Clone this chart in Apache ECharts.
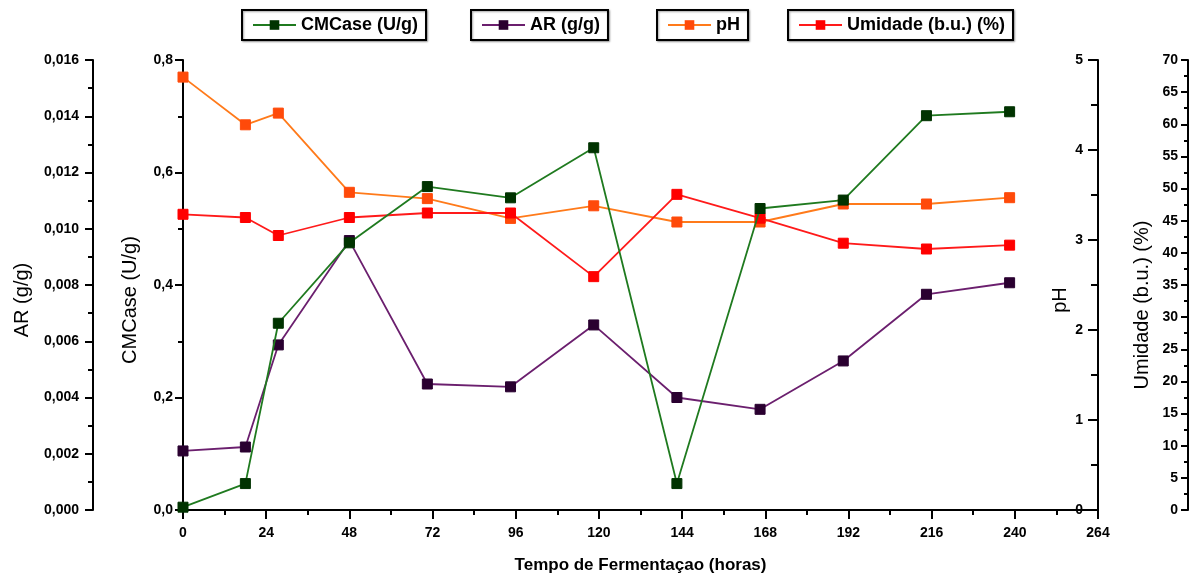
<!DOCTYPE html>
<html>
<head>
<meta charset="utf-8">
<script src="https://cdn.jsdelivr.net/npm/echarts@6/dist/echarts.min.js"></script>
<style>html,body{margin:0;padding:0;background:#fff;}#c{width:1198px;height:577px;}</style>
</head>
<body>
<div id="c"></div>
<script>
// Data
var hours = [0, 18, 27.5, 48, 70.5, 94.5, 118.5, 142.5, 166.5, 190.5, 214.5, 238.5];
var cmcase = [0.005, 0.047, 0.332, 0.475, 0.575, 0.555, 0.644, 0.047, 0.536, 0.551, 0.701, 0.708];
var ar = [0.0021, 0.00224, 0.00587, 0.00958, 0.00448, 0.00438, 0.00658, 0.0040, 0.00358, 0.0053, 0.00767, 0.00808];
var ph = [4.81, 4.28, 4.41, 3.53, 3.46, 3.24, 3.38, 3.20, 3.20, 3.40, 3.40, 3.47];
var umidade = [46.0, 45.5, 42.7, 45.5, 46.2, 46.2, 36.3, 49.1, 45.4, 41.5, 40.6, 41.2];
var seriesNames = ['CMCase (U/g)', 'AR (g/g)', 'pH', 'Umidade (b.u.) (%)'];
var xTitle = 'Tempo de Fermentaçao (horas)';

function pairs(xs, ys) { return xs.map(function (x, i) { return [x, ys[i]]; }); }
function comma(d) { return function (v) { return v.toFixed(d).replace('.', ','); }; }

var FONT = 'Liberation Sans, Arial, sans-serif';
var axisLineStyle = { show: true, lineStyle: { color: '#000', width: 2 } };
var tickLabel = { color: '#000', fontFamily: FONT, fontWeight: 'bold', fontSize: 14 };

function legendAt(name, left) {
  return {
    data: [name], left: left, top: 10, orient: 'horizontal',
    itemWidth: 43, itemHeight: 12, itemGap: 6,
    padding: [6, 8, 6, 10], borderColor: '#000', borderWidth: 2,
    shadowColor: 'rgba(0,0,0,0.35)', shadowBlur: 2, shadowOffsetX: 1, shadowOffsetY: 1,
    backgroundColor: '#fff',
    textStyle: { color: '#000', fontFamily: FONT, fontWeight: 'bold', fontSize: 18 }
  };
}

var chart = echarts.init(document.getElementById('c'), null, { renderer: 'canvas' });
chart.setOption({
  animation: false,
  backgroundColor: '#fff',
  grid: { left: 183, right: 100, top: 60, bottom: 67, containLabel: false, outerBoundsMode: 'none' },
  legend: [
    legendAt(seriesNames[0], 242),
    legendAt(seriesNames[1], 471),
    legendAt(seriesNames[2], 657),
    legendAt(seriesNames[3], 788)
  ],
  xAxis: {
    type: 'value', min: 0, max: 264, interval: 24,
    axisLine: { show: true, onZero: false, lineStyle: { color: '#000', width: 2 } },
    axisTick: { show: true, length: 9, lineStyle: { color: '#000', width: 2 } },
    minorTick: { show: true, splitNumber: 2, length: 5, lineStyle: { color: '#000', width: 2 } },
    splitLine: { show: false },
    axisLabel: Object.assign({ margin: 16 }, tickLabel),
    name: xTitle, nameLocation: 'middle', nameGap: 47, nameMoveOverlap: false,
    nameTextStyle: { color: '#000', fontFamily: FONT, fontWeight: 'bold', fontSize: 17 }
  },
  yAxis: [
    {
      type: 'value', position: 'left', offset: 0, min: 0, max: 0.8, interval: 0.2,
      axisLine: axisLineStyle,
      axisTick: { show: true, length: 8, lineStyle: { color: '#000', width: 2 } },
      minorTick: { show: true, splitNumber: 2, length: 5, lineStyle: { color: '#000', width: 2 } },
      splitLine: { show: false },
      axisLabel: Object.assign({ margin: 10, formatter: comma(1) }, tickLabel),
      name: seriesNames[0], nameLocation: 'middle', nameGap: 43, nameRotate: 90, nameMoveOverlap: false,
      nameTextStyle: { color: '#000', fontFamily: FONT, fontSize: 20, padding: [0, 30, 0, 0] }
    },
    {
      type: 'value', position: 'left', offset: 90, min: 0, max: 0.016, interval: 0.002,
      axisLine: axisLineStyle,
      axisTick: { show: true, length: 8, lineStyle: { color: '#000', width: 2 } },
      minorTick: { show: true, splitNumber: 2, length: 5, lineStyle: { color: '#000', width: 2 } },
      splitLine: { show: false },
      axisLabel: Object.assign({ margin: 14, formatter: comma(3) }, tickLabel),
      name: seriesNames[1], nameLocation: 'middle', nameGap: 61, nameRotate: 90, nameMoveOverlap: false,
      nameTextStyle: { color: '#000', fontFamily: FONT, fontSize: 20, padding: [0, 30, 0, 0] }
    },
    {
      type: 'value', position: 'right', offset: 0, min: 0, max: 5, interval: 1,
      axisLine: axisLineStyle,
      axisTick: { show: true, inside: true, length: 10, lineStyle: { color: '#000', width: 2 } },
      minorTick: { show: true, splitNumber: 2, length: 7, lineStyle: { color: '#000', width: 2 } },
      splitLine: { show: false },
      axisLabel: Object.assign({ inside: true, margin: 15 }, tickLabel),
      name: 'pH', nameLocation: 'middle', nameGap: -48, nameRotate: 90, nameMoveOverlap: false,
      nameTextStyle: { color: '#000', fontFamily: FONT, fontSize: 20, padding: [0, 30, 0, 0] }
    },
    {
      type: 'value', position: 'right', offset: 90, min: 0, max: 70, interval: 5,
      axisLine: axisLineStyle,
      axisTick: { show: true, inside: true, length: 7, lineStyle: { color: '#000', width: 2 } },
      minorTick: { show: true, splitNumber: 2, length: 4, lineStyle: { color: '#000', width: 2 } },
      splitLine: { show: false },
      axisLabel: Object.assign({ inside: true, margin: 10 }, tickLabel),
      name: seriesNames[3], nameLocation: 'middle', nameGap: -56, nameRotate: 90, nameMoveOverlap: false,
      nameTextStyle: { color: '#000', fontFamily: FONT, fontSize: 20, padding: [0, 40, 0, 0] }
    }
  ],
  series: [
    {
      name: seriesNames[0], type: 'line', yAxisIndex: 0, data: pairs(hours, cmcase),
      symbol: 'rect', symbolSize: 10,
      lineStyle: { color: '#1f7a1f', width: 1.8 },
      itemStyle: { color: '#003300', borderColor: '#003300' }, z: 4
    },
    {
      name: seriesNames[1], type: 'line', yAxisIndex: 1, data: pairs(hours, ar),
      symbol: 'rect', symbolSize: 10,
      lineStyle: { color: '#6b1f6e', width: 1.8 },
      itemStyle: { color: '#2a0030', borderColor: '#2a0030' }, z: 3
    },
    {
      name: seriesNames[2], type: 'line', yAxisIndex: 2, data: pairs(hours, ph),
      symbol: 'rect', symbolSize: 10,
      lineStyle: { color: '#ff7a1a', width: 1.8 },
      itemStyle: { color: '#ff4a0a', borderColor: '#ff4a0a' }, z: 2
    },
    {
      name: seriesNames[3], type: 'line', yAxisIndex: 3, data: pairs(hours, umidade),
      symbol: 'rect', symbolSize: 10,
      lineStyle: { color: '#ff1a1a', width: 1.8 },
      itemStyle: { color: '#ff0000', borderColor: '#ff0000' }, z: 2
    }
  ]
});
</script>
</body>
</html>
